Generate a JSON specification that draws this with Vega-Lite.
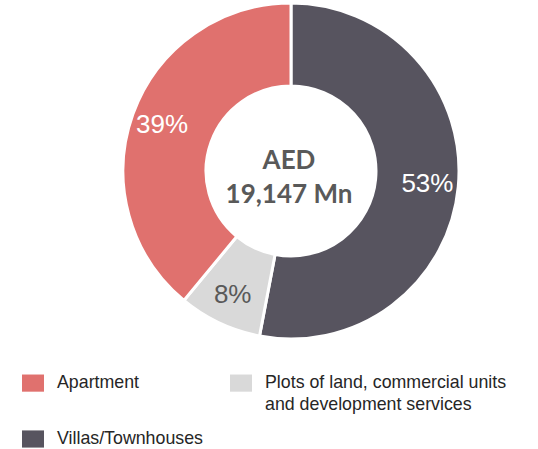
{
  "$schema": "https://vega.github.io/schema/vega-lite/v6.json",
  "width": 340,
  "height": 340,
  "autosize": {"type": "none"},
  "padding": {"left": 121, "top": 1, "right": 77, "bottom": 108},
  "background": "white",
  "config": {
    "view": {"stroke": null},
    "style": {"guide-label": {"lineHeight": 22}}
  },
  "data": {
    "values": [
      {"category": "Villas/Townhouses", "share": 0.53, "ord": 1},
      {"category": "Plots of land, commercial units and development services", "share": 0.08, "ord": 2},
      {"category": "Apartment", "share": 0.39, "ord": 3}
    ]
  },
  "layer": [
    {
      "mark": {"type": "arc", "outerRadius": 168, "innerRadius": 85, "stroke": "white", "strokeWidth": 3},
      "encoding": {
        "theta": {"field": "share", "type": "quantitative", "stack": true},
        "order": {"field": "ord", "type": "quantitative"},
        "color": {
          "field": "category",
          "type": "nominal",
          "scale": {
            "domain": ["Apartment", "Plots of land, commercial units and development services", "Villas/Townhouses"],
            "range": ["#E0716E", "#D9D9D9", "#57545F"]
          },
          "legend": {
            "orient": "none",
            "legendX": -99,
            "legendY": 371,
            "direction": "horizontal",
            "columns": 2,
            "title": null,
            "padding": 0,
            "symbolType": "M-1,-0.78H1V0.78H-1Z",
            "symbolSize": 484,
            "symbolStrokeWidth": 0,
            "symbolOpacity": 1,
            "labelFont": "Liberation Sans",
            "labelFontSize": 17.8,
            "labelColor": "#262626",
            "labelOffset": 13,
            "labelLimit": 400,
            "columnPadding": 27,
            "rowPadding": 14,
            "labelExpr": "datum.label == 'Plots of land, commercial units and development services' ? ['Plots of land, commercial units', 'and development services'] : [datum.label, '']"
          }
        }
      }
    },
    {
      "mark": {"type": "text", "radius": 137, "font": "Liberation Sans", "fontSize": 26},
      "encoding": {
        "theta": {"field": "share", "type": "quantitative", "stack": true},
        "order": {"field": "ord", "type": "quantitative"},
        "text": {"field": "share", "type": "quantitative", "format": ".0%"},
        "color": {
          "condition": {"test": "datum.category === 'Plots of land, commercial units and development services'", "value": "#595959"},
          "value": "white"
        }
      }
    },
    {
      "data": {"values": [{"label": "AED\n19,147 Mn"}]},
      "mark": {"type": "text", "lineBreak": "\n", "font": "Lato", "fontWeight": "bold", "fontSize": 26, "lineHeight": 34, "color": "#595959", "dy": -10, "dx": -2},
      "encoding": {
        "text": {"field": "label", "type": "nominal"}
      }
    }
  ]
}
